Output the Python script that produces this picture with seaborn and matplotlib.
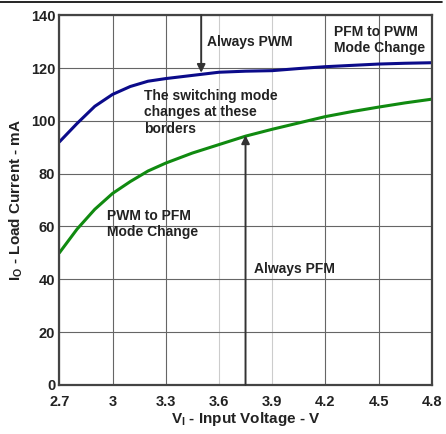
import seaborn as sns
import matplotlib.pyplot as plt
import pandas as pd

sns.set_style("white")
plt.rcParams["font.family"] = ["Liberation Sans", "DejaVu Sans"]

# Data
vin = [2.7, 2.8, 2.9, 3.0, 3.1, 3.2, 3.3, 3.45, 3.6, 3.75, 3.9, 4.05, 4.2, 4.35, 4.5, 4.65, 4.8]
pfm_to_pwm = [92, 99, 105.5, 110, 113, 115, 116, 117.2, 118.4, 118.8, 119, 119.8, 120.5, 121, 121.5, 121.8, 122]
pwm_to_pfm = [50, 59, 66.5, 72.5, 77, 81, 84, 87.8, 91, 94.2, 96.8, 99.2, 101.6, 103.5, 105.2, 106.8, 108.2]

xticks = [2.7, 3, 3.3, 3.6, 3.9, 4.2, 4.5, 4.8]
xtick_labels = ["2.7", "3", "3.3", "3.6", "3.9", "4.2", "4.5", "4.8"]
yticks = [0, 20, 40, 60, 80, 100, 120, 140]

df = pd.DataFrame({
    "vin": vin * 2,
    "iout": pfm_to_pwm + pwm_to_pfm,
    "curve": ["PFM to PWM"] * len(vin) + ["PWM to PFM"] * len(vin),
})

fig, ax = plt.subplots(figsize=(4.46, 4.34), dpi=100)
fig.subplots_adjust(left=0.133, right=0.968, top=0.965, bottom=0.113)

sns.lineplot(data=df, x="vin", y="iout", hue="curve",
             palette={"PFM to PWM": "#0b0b8a", "PWM to PFM": "#108a10"},
             linewidth=2.2, legend=False, ax=ax)

ax.set_xlim(2.7, 4.8)
ax.set_ylim(0, 140)
ax.set_xticks(xticks)
ax.set_xticklabels(xtick_labels)
ax.set_yticks(yticks)
ax.tick_params(labelsize=10.5, length=0)
ax.tick_params(axis="x", pad=7)
ax.tick_params(axis="y", pad=3)
for lbl in ax.get_xticklabels() + ax.get_yticklabels():
    lbl.set_fontweight("bold")
    lbl.set_color("#222222")

ax.grid(True, color="#666666", linewidth=0.8)
# lighter grid lines at 3.6 and 3.9
for gl, t in zip(ax.get_xgridlines(), xticks):
    if t in (3.6, 3.9):
        gl.set_color("#cccccc")
for sp in ax.spines.values():
    sp.set_color("#444444")
    sp.set_linewidth(1.6)

ax.set_xlabel("V$_\\mathregular{I}$ - Input Voltage - V", fontsize=11, fontweight="bold", color="#222222", labelpad=1)
ax.set_ylabel("I$_\\mathregular{O}$ - Load Current - mA", fontsize=11, fontweight="bold", color="#222222")

tkw = dict(fontsize=10, fontweight="bold", color="#222222")
ax.text(3.53, 130, "Always PWM", va="center", ha="left", **tkw)
ax.text(4.25, 130.5, "PFM to PWM\nMode Change", va="center", ha="left", **tkw)
ax.text(3.18, 112, "The switching mode\nchanges at these\nborders", va="top", ha="left", **tkw)
ax.text(2.97, 61, "PWM to PFM\nMode Change", va="center", ha="left", **tkw)
ax.text(3.8, 44, "Always PFM", va="center", ha="left", **tkw)

akw = dict(arrowstyle="-|>", color="#333333", lw=1.4, mutation_scale=12, shrinkA=0, shrinkB=0)
ax.annotate("", xy=(3.5, 118.2), xytext=(3.5, 140), arrowprops=akw)
ax.annotate("", xy=(3.75, 94.5), xytext=(3.75, 0), arrowprops=akw)

fig.add_artist(plt.Line2D([0.0, 0.99], [0.995, 0.995], color="black", lw=1.2, transform=fig.transFigure))

plt.savefig("out.png", dpi=100)
plt.close()
